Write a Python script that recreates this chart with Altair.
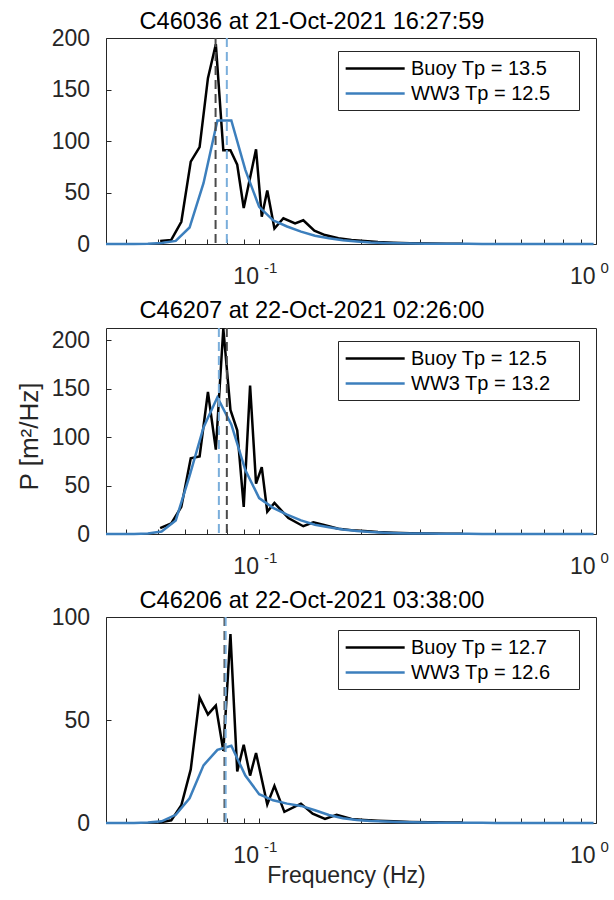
import altair as alt
import pandas as pd

# ---------------- data ----------------
TITLES = [
    "C46036 at 21-Oct-2021 16:27:59",
    "C46207 at 22-Oct-2021 02:26:00",
    "C46206 at 22-Oct-2021 03:38:00",
]
BUOY_TP = [13.5, 12.5, 12.7]
WW3_TP = [12.5, 13.2, 12.6]

WW3_FREQ = [0.035, 0.0385, 0.0424, 0.0466, 0.0512, 0.0564, 0.062, 0.0682, 0.075, 0.0825,
            0.0908, 0.0998, 0.1098, 0.1208, 0.1329, 0.1462, 0.1608, 0.1769, 0.1946, 0.214,
            0.2354, 0.259, 0.2849, 0.3134, 0.3447, 0.3792, 0.4171, 0.4588, 0.5047, 0.5551,
            0.6107, 0.6717, 0.7389, 0.8128, 0.8941, 0.9835]
WW3_P_1 = [0, 0, 0, 0.3, 1, 3, 16, 59, 120, 120,
           72, 36, 23, 17, 12, 8, 5.5, 3.6, 2.4, 1.5,
           1.0, 0.7, 0.5, 0.35, 0.25, 0.18, 0.13, 0.1, 0.07, 0.05,
           0.04, 0.03, 0.02, 0.015, 0.01, 0.008]
WW3_P_2 = [0, 0, 0.1, 0.5, 2.5, 14, 60, 110, 141, 113,
           66, 37, 27, 20, 14, 9.6, 7, 4.7, 3.2, 2.1,
           1.4, 0.9, 0.6, 0.4, 0.3, 0.2, 0.15, 0.1, 0.07, 0.05,
           0.04, 0.03, 0.02, 0.015, 0.01, 0.008]
WW3_P_3 = [0, 0, 0.05, 0.3, 0.8, 4, 12, 28, 35.5, 37.5,
           23, 14, 11, 9.4, 8.3, 6.2, 3.9, 2.3, 1.5, 1.0,
           0.7, 0.5, 0.35, 0.25, 0.18, 0.13, 0.1, 0.07, 0.05, 0.04,
           0.03, 0.02, 0.015, 0.01, 0.008, 0.006]

BUOY_FREQ_1 = [0.0507, 0.0547, 0.0586, 0.0625, 0.0664, 0.0703, 0.0742, 0.0781, 0.0820, 0.0859,
               0.0898, 0.0977, 0.1016, 0.1055, 0.1108, 0.1178, 0.1276, 0.1350, 0.1456, 0.1566,
               0.1716, 0.1877, 0.2050, 0.2250, 0.2500, 0.2800, 0.3200, 0.3600, 0.4000]
BUOY_P_1 = [3, 4, 21.6, 80, 94, 161, 194, 91, 91, 77,
            35, 92, 26.5, 52, 15, 25, 20, 23, 13, 8.7,
            5.5, 4, 3, 2, 1.3, 0.8, 0.5, 0.35, 0.25]

BUOY_FREQ_2 = [0.0507, 0.0547, 0.0586, 0.0625, 0.0664, 0.0703, 0.0742, 0.0781, 0.0820, 0.0859,
               0.0898, 0.0938, 0.0977, 0.1016, 0.1055, 0.1108, 0.1219, 0.1350, 0.1446, 0.1566,
               0.1716, 0.1877, 0.2050, 0.2250, 0.2500, 0.2800, 0.3200, 0.3600, 0.4000]
BUOY_P_2 = [6, 11, 28, 78, 80, 146.5, 87, 212, 128, 107,
            28, 153, 52, 69, 23, 32, 16.5, 8, 12, 9,
            5.5, 4, 3, 2, 1.3, 0.8, 0.5, 0.35, 0.25]

BUOY_FREQ_3 = [0.0502, 0.0547, 0.0586, 0.0625, 0.0664, 0.0703, 0.0742, 0.0781, 0.0820, 0.0859,
               0.0898, 0.0938, 0.0977, 0.1055, 0.1108, 0.1186, 0.1328, 0.1439, 0.1566, 0.1696,
               0.1877, 0.2050, 0.2250, 0.2500, 0.2800, 0.3200, 0.3600, 0.4000]
BUOY_P_3 = [0.2, 1.3, 8.6, 26, 61, 52.7, 57, 35, 91.7, 25,
            38, 23, 34, 9, 18, 5.4, 9.4, 4.5, 2, 4,
            2, 1.5, 1.1, 0.8, 0.5, 0.35, 0.25, 0.2]

Y_MAX = [200, 212.5, 100]
Y_TICKS = [[0, 50, 100, 150, 200], [0, 50, 100, 150, 200], [0, 50, 100]]
X_TICKS = [0.04, 0.05, 0.06, 0.07, 0.08, 0.09, 0.1, 0.2, 0.3, 0.4, 0.5, 0.6, 0.7, 0.8, 0.9, 1.0]
X_LABELS = [0.1, 1.0]

BUOY_FREQ = [BUOY_FREQ_1, BUOY_FREQ_2, BUOY_FREQ_3]
BUOY_P = [BUOY_P_1, BUOY_P_2, BUOY_P_3]
WW3_P = [WW3_P_1, WW3_P_2, WW3_P_3]

# ---------------- style ----------------
FONT = "Liberation Sans"
AX = "#262626"
BLUE = "#3c7fbd"
BLUE_DASH = "#7aaedb"
BLACK_DASH = "#4a4a4a"
W, H = 490, 206
PAD_TAIL = "\u00a0" * 4 + "\u200b"
TK = 5  # inward tick length
TITLE_OFFSETS = [-12, 1, -12]


def panel(i, ytitle, xtitle):
    buoy_label = f"Buoy Tp = {BUOY_TP[i]:.1f}"
    ww3_label = f"WW3 Tp = {WW3_TP[i]:.1f}"
    df = pd.concat([
        pd.DataFrame({"f": BUOY_FREQ[i], "P": BUOY_P[i], "series": buoy_label}),
        pd.DataFrame({"f": WW3_FREQ, "P": WW3_P[i], "series": ww3_label}),
    ], ignore_index=True)
    buoy_tp = pd.DataFrame({"f": [1.0 / BUOY_TP[i]]})
    ww3_tp = pd.DataFrame({"f": [1.0 / WW3_TP[i]]})

    xs = alt.Scale(type="log", domain=[0.035, 1.0], nice=False)
    ys = alt.Scale(domain=[0, Y_MAX[i]], nice=False, zero=True)

    # bottom axis: inward ticks (translate trick) + "10" labels at decades
    x_lab = alt.Axis(orient="bottom", values=X_TICKS,
                     labelExpr="datum.value === 0.1 || datum.value === 1 ? '10' : ''",
                     ticks=True, tickSize=TK, tickColor=AX, tickWidth=1,
                     translate=0.5 - TK, tickOffset=TK,
                     domain=False, grid=False, labelAlign="right", labelOffset=-1,
                     labelBaseline="alphabetic", labelPadding=39.5, labelFontSize=23,
                     labelColor=AX, labelFlush=False, labelOverlap=False,
                     titleFontSize=23, titleFontWeight="normal", titleColor=AX,
                     titlePadding=-3)
    # left axis: inward ticks + labels
    y_lab = alt.Axis(orient="left", values=Y_TICKS[i],
                     ticks=True, tickSize=TK, tickColor=AX, tickWidth=1,
                     translate=0.5 + TK, tickOffset=-TK,
                     domain=False, grid=False, labelPadding=16.5, labelFontSize=23,
                     labelColor=AX, labelFlush=False, titleFontSize=26,
                     titleFontWeight="normal", titleColor=AX, titlePadding=9)
    lines = alt.Chart(df).mark_line(strokeWidth=2.5).encode(
        x=alt.X("f:Q", scale=xs, axis=x_lab, title=xtitle),
        y=alt.Y("P:Q", scale=ys, axis=y_lab, title=ytitle),
        color=alt.Color(
            "series:N",
            scale=alt.Scale(domain=[buoy_label, ww3_label], range=["#000000", BLUE]),
            legend=alt.Legend(
                orient="none", legendX=232, legendY=13, title=None,
                symbolType="M-1,0H5", symbolSize=387, symbolStrokeWidth=2.5,
                labelFontSize=20, labelColor="#000000", labelOffset=44, labelLimit=400,
                padding=6, rowPadding=3, fillColor="white", strokeColor=AX,
                labelExpr="datum.label + '" + PAD_TAIL + "'",
            ),
        ),
    )

    # exponent labels of the decade tick labels
    x_exp = alt.Axis(orient="bottom", values=X_LABELS,
                     labelExpr="datum.value < 0.5 ? '-1' : '0'", ticks=False, tickSize=0,
                     domain=False, grid=False, labelAlign="left", labelOffset=4,
                     labelBaseline="alphabetic", labelPadding=28, labelFontSize=15,
                     labelColor=AX, labelFlush=False, labelOverlap=False)
    rule_b = alt.Chart(buoy_tp).mark_rule(color=BLACK_DASH, strokeWidth=2,
                                          strokeDash=[9, 5]).encode(
        x=alt.X("f:Q", scale=xs, axis=x_exp, title=None))
    rule_w = alt.Chart(ww3_tp).mark_rule(color=BLUE_DASH, strokeWidth=2,
                                         strokeDash=[9, 5]).encode(
        x=alt.X("f:Q", scale=xs, axis=None))

    return alt.layer(lines, rule_b, rule_w).resolve_axis(x="independent").properties(
        width=W, height=H,
        title=alt.TitleParams(TITLES[i], fontSize=23.6, fontWeight="normal", color="#000000",
                              font=FONT, anchor="middle", offset=TITLE_OFFSETS[i],
                              frame="group", dx=-39),
    )


chart = alt.vconcat(
    panel(0, None, None),
    panel(1, "P [m²/Hz]", None),
    panel(2, None, "Frequency (Hz)"),
    spacing=4,
).resolve_scale(
    color="independent"
).configure(
    font=FONT,
    background="white",
    padding={"left": 10, "top": 9, "right": 0, "bottom": 0},
).configure_view(
    stroke=AX, strokeWidth=1
).configure_axis(
    grid=False
)

chart.save("out.html", embed_options={"renderer": "svg", "actions": False})
